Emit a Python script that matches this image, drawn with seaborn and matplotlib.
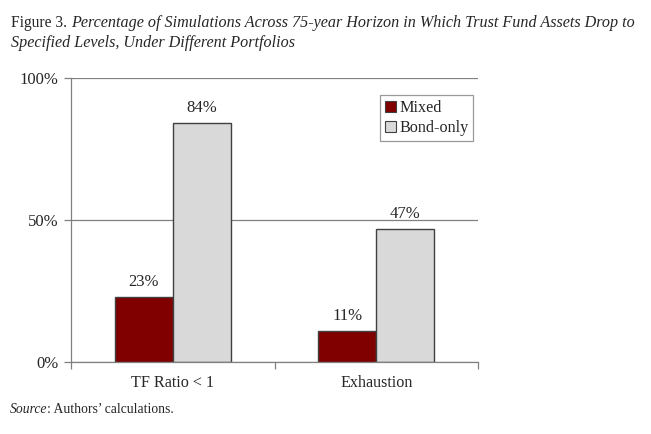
import matplotlib
matplotlib.use("Agg")
import matplotlib.pyplot as plt
import seaborn as sns
import pandas as pd
from matplotlib.patches import Patch
from matplotlib.ticker import FixedLocator

categories = ["TF Ratio < 1", "Exhaustion"]
series = ["Mixed", "Bond-only"]
mixed = [23, 11]
bond_only = [84, 47]
colors = ["#800000", "#d9d9d9"]

df = pd.DataFrame({
    "cat": categories * 2,
    "series": [series[0]] * 2 + [series[1]] * 2,
    "val": mixed + bond_only,
})

sns.set_style("white")
plt.rcParams["font.family"] = ["Liberation Serif", "DejaVu Serif"]

fig = plt.figure(figsize=(6.51, 4.34), dpi=100)
ax = fig.add_axes([71/651, 1-362/434, (478-71)/651, (362-78)/434])

sns.barplot(data=df, x="cat", y="val", hue="series", order=categories,
            hue_order=series, palette=colors, width=0.57, ax=ax,
            edgecolor="#404040", linewidth=1, legend=False, saturation=1)

for cont in ax.containers:
    ax.bar_label(cont, labels=[f"{v:.0f}%" for v in cont.datavalues],
                 padding=5, fontsize=12)

ax.set_ylim(0, 100)
ax.set_xlim(-0.5, 1.5)
ax.set_yticks([0, 50, 100])
ax.set_yticklabels(["0%", "50%", "100%"], fontsize=12)
ax.yaxis.grid(True, color="#808080", linewidth=0.9)
ax.set_axisbelow(True)
ax.tick_params(axis="y", left=True, length=5, color="#808080", width=0.9, pad=4)
ax.tick_params(axis="x", which="major", bottom=False, labelsize=11.6, pad=6)
ax.xaxis.set_minor_locator(FixedLocator([-0.5, 0.5, 1.5]))
ax.tick_params(axis="x", which="minor", bottom=True, length=5, color="#808080", width=0.9)
ax.set_xlabel("")
ax.set_ylabel("")
for s in ["top", "right"]:
    ax.spines[s].set_visible(False)
for s in ["left", "bottom"]:
    ax.spines[s].set_color("#808080")
    ax.spines[s].set_linewidth(0.9)

handles = [Patch(facecolor=c, edgecolor="#404040", linewidth=0.8) for c in colors]
leg = ax.legend(handles, series, loc="upper left",
                bbox_to_anchor=((380-71)/407, (362-95)/284), fontsize=11.6,
                frameon=True, fancybox=False, edgecolor="#808080",
                handlelength=0.7, handleheight=0.7, handletextpad=0.2,
                borderpad=0.3, labelspacing=0.25, borderaxespad=0)
leg.get_frame().set_linewidth(0.9)

# Title
t1 = fig.text(11/651, 1-27/434, "Figure 3. ", fontsize=11.2, va="baseline")
fig.canvas.draw()
bb = t1.get_window_extent()
fig.text(bb.x1/651, 1-27/434,
         "Percentage of Simulations Across 75-year Horizon in Which Trust Fund Assets Drop to",
         fontsize=11.6, style="italic", va="baseline")
fig.text(11/651, 1-47/434, "Specified Levels, Under Different Portfolios",
         fontsize=11.6, style="italic", va="baseline")

t2 = fig.text(10/651, 1-413/434, "Source", fontsize=9.8, style="italic", va="baseline")
fig.canvas.draw()
bb2 = t2.get_window_extent()
fig.text(bb2.x1/651, 1-413/434, ": Authors\u2019 calculations.", fontsize=9.8, va="baseline")

fig.savefig("out.png", dpi=100)
